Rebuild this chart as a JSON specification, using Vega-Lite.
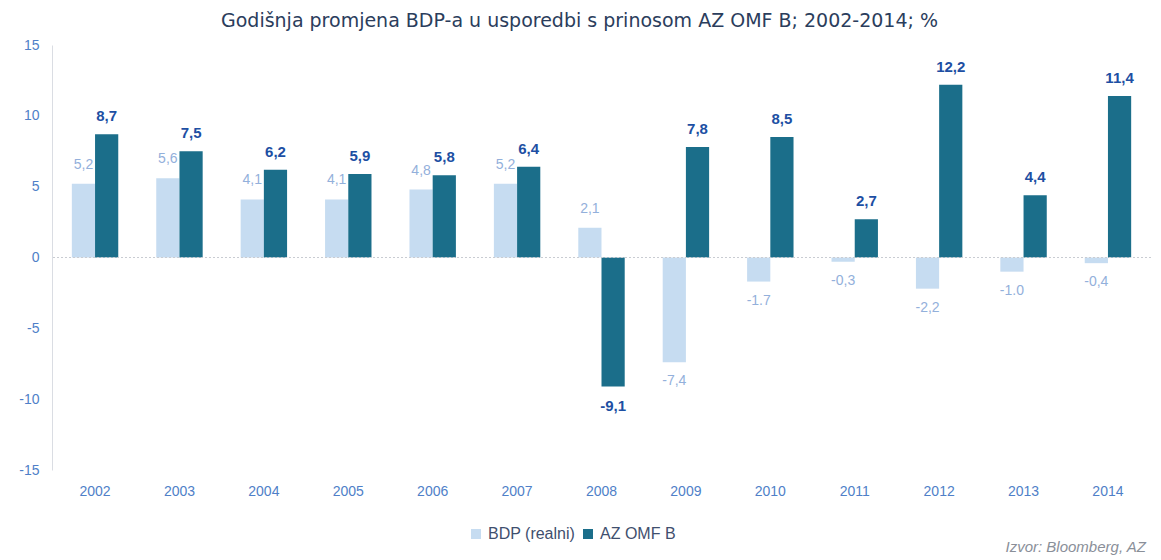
{
  "$schema": "https://vega.github.io/schema/vega-lite/v6.json",
  "autosize": {"type": "none"},
  "width": 1099,
  "height": 425,
  "padding": {"left": 52, "top": 45, "right": 10, "bottom": 90},
  "background": "white",
  "title": {"text": "Godišnja promjena BDP-a u usporedbi s prinosom AZ OMF B; 2002-2014; %", "anchor": "middle", "dx": -22, "offset": 7, "fontSize": 19, "fontWeight": "normal", "color": "#2b3d5c", "font": "DejaVu Sans"},
  "config": {
    "view": {"stroke": null},
    "font": "Liberation Sans"
  },
  "data": {"values": [
    {"year": "2002", "series": "BDP (realni)", "value": 5.2, "label": "5,2"},
    {"year": "2003", "series": "BDP (realni)", "value": 5.6, "label": "5,6"},
    {"year": "2004", "series": "BDP (realni)", "value": 4.1, "label": "4,1"},
    {"year": "2005", "series": "BDP (realni)", "value": 4.1, "label": "4,1"},
    {"year": "2006", "series": "BDP (realni)", "value": 4.8, "label": "4,8"},
    {"year": "2007", "series": "BDP (realni)", "value": 5.2, "label": "5,2"},
    {"year": "2008", "series": "BDP (realni)", "value": 2.1, "label": "2,1"},
    {"year": "2009", "series": "BDP (realni)", "value": -7.4, "label": "-7,4"},
    {"year": "2010", "series": "BDP (realni)", "value": -1.7, "label": "-1.7"},
    {"year": "2011", "series": "BDP (realni)", "value": -0.3, "label": "-0,3"},
    {"year": "2012", "series": "BDP (realni)", "value": -2.2, "label": "-2,2"},
    {"year": "2013", "series": "BDP (realni)", "value": -1.0, "label": "-1.0"},
    {"year": "2014", "series": "BDP (realni)", "value": -0.4, "label": "-0,4"},
    {"year": "2002", "series": "AZ OMF B", "value": 8.7, "label": "8,7"},
    {"year": "2003", "series": "AZ OMF B", "value": 7.5, "label": "7,5"},
    {"year": "2004", "series": "AZ OMF B", "value": 6.2, "label": "6,2"},
    {"year": "2005", "series": "AZ OMF B", "value": 5.9, "label": "5,9"},
    {"year": "2006", "series": "AZ OMF B", "value": 5.8, "label": "5,8"},
    {"year": "2007", "series": "AZ OMF B", "value": 6.4, "label": "6,4"},
    {"year": "2008", "series": "AZ OMF B", "value": -9.1, "label": "-9,1"},
    {"year": "2009", "series": "AZ OMF B", "value": 7.8, "label": "7,8"},
    {"year": "2010", "series": "AZ OMF B", "value": 8.5, "label": "8,5"},
    {"year": "2011", "series": "AZ OMF B", "value": 2.7, "label": "2,7"},
    {"year": "2012", "series": "AZ OMF B", "value": 12.2, "label": "12,2"},
    {"year": "2013", "series": "AZ OMF B", "value": 4.4, "label": "4,4"},
    {"year": "2014", "series": "AZ OMF B", "value": 11.4, "label": "11,4"}
  ]},
  "encoding": {
    "x": {"field": "year", "type": "nominal",
      "scale": {"paddingInner": 0.45, "paddingOuter": 0.235},
      "axis": {"title": "Izvor: Bloomberg, AZ", "titleAnchor": "end", "titleAlign": "left", "titleX": 953, "titleY": 69, "titleFontStyle": "italic", "titleFontWeight": "normal", "titleFontSize": 15, "titleColor": "#8a8f99",
        "labelAngle": 0, "labelColor": "#4f7fc8", "labelFontSize": 14, "labelPadding": 14, "domain": false, "ticks": false}},
    "xOffset": {"field": "series", "type": "nominal", "sort": ["BDP (realni)", "AZ OMF B"]},
    "y": {"field": "value", "type": "quantitative",
      "scale": {"domain": [-15, 15], "nice": false, "zero": false},
      "axis": {"title": null, "values": [-15, -10, -5, 0, 5, 10, 15], "labelExpr": "datum.value < 0 ? '-' + abs(datum.value) : '' + datum.value", "grid": false, "ticks": false, "domainColor": "#dadde3", "labelColor": "#4f7fc8", "labelFontSize": 14, "labelPadding": 13}}
  },
  "layer": [
    {
      "mark": {"type": "bar"},
      "encoding": {
        "color": {"field": "series", "type": "nominal", "sort": ["BDP (realni)", "AZ OMF B"],
          "scale": {"domain": ["BDP (realni)", "AZ OMF B"], "range": ["#c6dcf1", "#1b6e8a"]},
          "legend": {"title": null, "orient": "none", "legendX": 416, "legendY": 481, "direction": "horizontal", "symbolType": "square", "symbolSize": 100, "symbolStrokeWidth": 0, "labelFontSize": 16, "labelColor": "#3f4f6e", "columnPadding": 4, "labelOffset": 4}}
      }
    },
    {
      "mark": {"type": "rule", "color": "#c9ccd2", "strokeDash": [2, 2], "strokeWidth": 1},
      "encoding": {"y": {"datum": 0}, "x": {}, "xOffset": {}}
    },
    {
      "transform": [{"filter": "datum.series == 'AZ OMF B' && datum.value >= 0"}],
      "mark": {"type": "text", "baseline": "bottom", "dy": -10, "fontSize": 15, "fontWeight": "bold", "color": "#1d4fa3"},
      "encoding": {"text": {"field": "label"}}
    },
    {
      "transform": [{"filter": "datum.series == 'AZ OMF B' && datum.value < 0"}],
      "mark": {"type": "text", "baseline": "top", "dy": 13, "fontSize": 15, "fontWeight": "bold", "color": "#1d4fa3"},
      "encoding": {"text": {"field": "label"}}
    },
    {
      "transform": [{"filter": "datum.series == 'BDP (realni)' && datum.value >= 0"}],
      "mark": {"type": "text", "baseline": "bottom", "dy": -12, "fontSize": 14, "color": "#93b0db"},
      "encoding": {"text": {"field": "label"}}
    },
    {
      "transform": [{"filter": "datum.series == 'BDP (realni)' && datum.value < 0"}],
      "mark": {"type": "text", "baseline": "top", "dy": 12, "fontSize": 14, "color": "#93b0db"},
      "encoding": {"text": {"field": "label"}}
    }
  ]
}
